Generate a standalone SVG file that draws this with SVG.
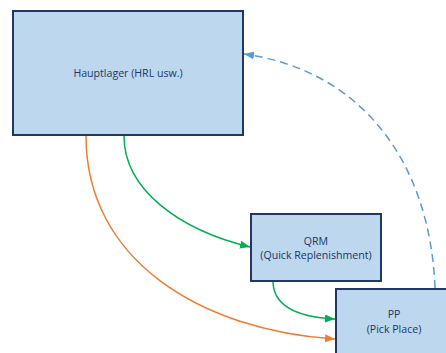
<svg xmlns="http://www.w3.org/2000/svg" width="446" height="353" viewBox="0 0 446 353">
<style>
.box{fill:#BDD7EE;stroke:#203864;stroke-width:2}
.t{font-family:"Open Sans","Liberation Sans",sans-serif;font-size:10.6px;fill:#203864;text-anchor:middle}
.c{fill:none;stroke-width:1.5}
</style>
<defs>
<marker id="ag" markerUnits="userSpaceOnUse" markerWidth="12" markerHeight="10" refX="10" refY="4" orient="auto"><path d="M0,0 L10,4 L0,8 Z" fill="#00B050"/></marker>
<marker id="ao" markerUnits="userSpaceOnUse" markerWidth="12" markerHeight="10" refX="10" refY="4" orient="auto"><path d="M0,0 L10,4 L0,8 Z" fill="#ED7D31"/></marker>
<marker id="ab" markerUnits="userSpaceOnUse" markerWidth="12" markerHeight="10" refX="10" refY="4" orient="auto"><path d="M0,0 L10,4 L0,8 Z" fill="#5B9BD5"/></marker>
</defs>
<rect width="446" height="353" fill="#FFFFFF"/>
<g id="connectors">
<path class="c" d="M86,136 C86,260 200,330 335,339" stroke="#ED7D31" marker-end="url(#ao)"/>
<path class="c" d="M124,136 C124,190 180,230 250,247" stroke="#00B050" marker-end="url(#ag)"/>
<path class="c" d="M273,281 C273,305 295,317 335,319" stroke="#00B050" marker-end="url(#ag)"/>
<path class="c" d="M435,288 C430,160 360,70 244,54" stroke="#5B9BD5" stroke-dasharray="8,5" marker-end="url(#ab)"/>
</g>
<g id="hauptlager">
<rect class="box" x="13" y="11" width="230" height="124"/>
<text class="t" x="128" y="77">Hauptlager (HRL usw.)</text>
</g>
<g id="qrm">
<rect class="box" x="251" y="214" width="130" height="67"/>
<text class="t" x="316" y="245">QRM</text>
<text class="t" x="316" y="259">(Quick Replenishment)</text>
</g>
<g id="pp">
<rect class="box" x="336" y="289" width="118" height="80"/>
<text class="t" x="394" y="318">PP</text>
<text class="t" x="394" y="333">(Pick Place)</text>
</g>
</svg>
